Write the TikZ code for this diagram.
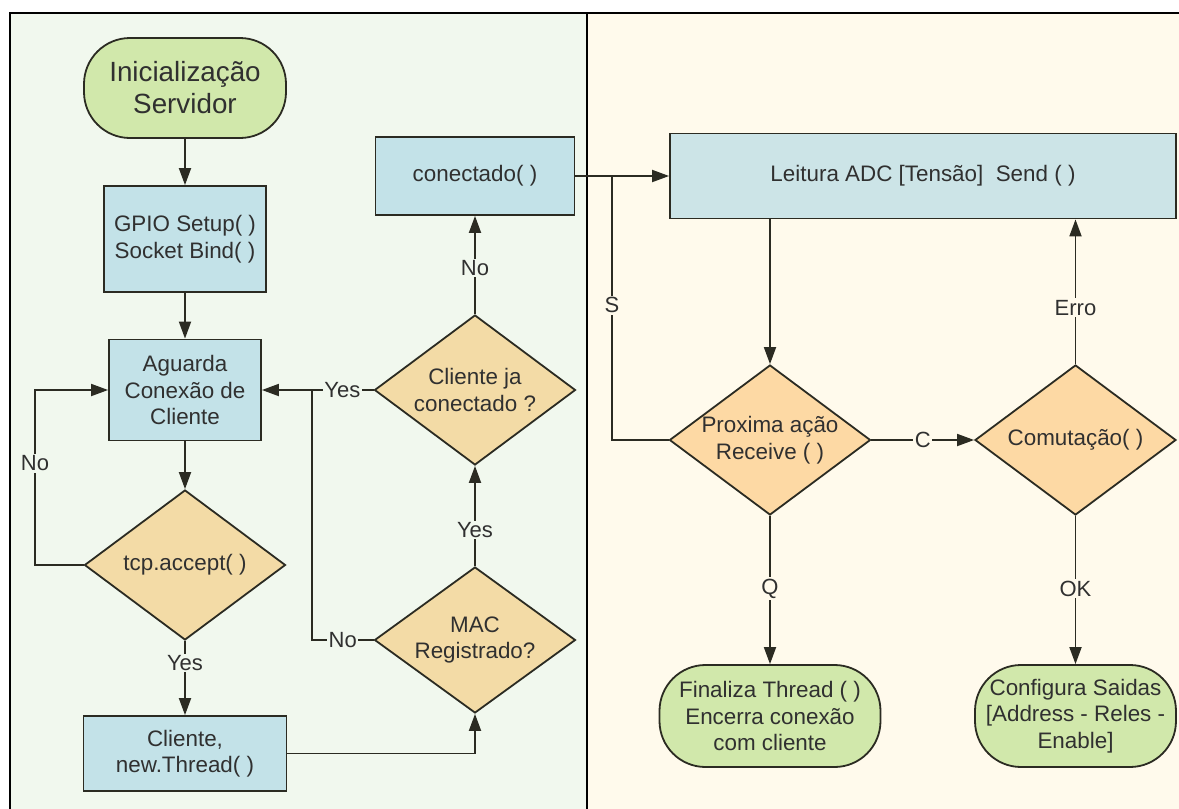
\documentclass[tikz,border=0pt]{standalone}
\usepackage{fontspec}
\setmainfont{Liberation Sans}
\usetikzlibrary{shapes.geometric,arrows.meta,calc}

\definecolor{panelL}{HTML}{F1F8EE}
\definecolor{panelR}{HTML}{FFFAEC}
\definecolor{boxblue}{HTML}{C3E2E8}
\definecolor{readblue}{HTML}{CCE4E7}
\definecolor{termgreen}{HTML}{D1E8AB}
\definecolor{decL}{HTML}{F3DBA6}
\definecolor{decR}{HTML}{FDD9A4}
\definecolor{ink}{HTML}{2B2B22}
\definecolor{txt}{HTML}{303030}

\begin{document}
\begin{tikzpicture}[x=1pt,y=-1pt,
  every node/.style={text=txt, font=\fontsize{22.4}{26.5}\selectfont, align=center},
  proc/.style={draw=ink, line width=1.8pt, rectangle, inner sep=0pt},
  term/.style={draw=ink, line width=1.8pt, rectangle, rounded corners=46pt, fill=termgreen, inner sep=0pt},
  dec/.style={draw=ink, line width=1.8pt, diamond, aspect=1.34, inner sep=0pt, minimum width=201pt, minimum height=150pt},
  flow/.style={draw=ink, line width=1.8pt, -{Triangle[length=17pt,width=12pt]}},
  link/.style={draw=ink, line width=1.8pt},
  lbl/.style={font=\fontsize{22}{26}\selectfont, inner sep=1.5pt},
]
\useasboundingbox (0,0) rectangle (1179,809);

% two swimlane panels
\fill[panelL] (10,13) rectangle (587,809);
\fill[panelR] (587,13) rectangle (1179,809);
\draw[black, line width=2.2pt] (10,809) -- (10,13) -- (1179,13);
\draw[black, line width=2pt] (587,13) -- (587,809);

% server side
\node[term, minimum width=202pt, minimum height=100pt, font=\fontsize{27.8}{32}\selectfont] (start) at (185,88) {Inicialização\\Servidor};
\node[proc, fill=boxblue, minimum width=162pt, minimum height=106pt] (setup) at (185,239) {GPIO Setup( )\\Socket Bind( )};
\node[proc, fill=boxblue, minimum width=152pt, minimum height=101pt] (wait) at (185,390) {Aguarda\\Conexão de\\Cliente};
\node[dec, fill=decL] (accept) at (185,565) {tcp.accept( )};
\node[proc, fill=boxblue, minimum width=203pt, minimum height=75pt] (client) at (185,753.5) {Cliente,\\new.Thread( )};
\node[dec, fill=decL, minimum height=146pt] (mac) at (475,640) {MAC\\Registrado?};
\node[dec, fill=decL] (already) at (475,390) {Cliente ja\\conectado ?};
\node[proc, fill=boxblue, minimum width=199pt, minimum height=78pt] (connected) at (475,176) {conectado( )};

% client thread side
\node[proc, fill=readblue, minimum width=506pt, minimum height=85pt] (read) at (923,176) {Leitura ADC [Tensão]\ \ Send ( )};
\node[dec, fill=decR] (next) at (770,440) {Proxima ação\\Receive ( )};
\node[dec, fill=decR] (switch) at (1075.5,440) {Comutação( )};
\node[term, minimum width=221pt, minimum height=102pt] (finish) at (770,716) {Finaliza Thread ( )\\Encerra conexão\\com cliente};
\node[term, minimum width=201pt, minimum height=102pt] (outputs) at (1075.5,716) {Configura Saidas\\{[}Address - Reles -\\Enable{]}};

\coordinate (noL) at (35,565);
\coordinate (jn) at (312,390);
\coordinate (sj) at (612,176);

% connectors, server side
\draw[flow] (start.south) -- (setup.north);
\draw[flow] (setup.south) -- (wait.north);
\draw[flow] (wait.south) -- (accept.north);
\draw[flow] (accept.west) -- (noL) |- node[lbl, fill=panelL, pos=0.29]{No} (wait.west);
\draw[flow] (accept.south) -- node[lbl, fill=panelL, pos=0.3]{Yes} (client.north);
\draw[flow] (client.east) -| (mac.south);
\draw[flow] (mac.north) -- node[lbl, fill=panelL, pos=0.36]{Yes} (already.south);
\draw[flow] (already.north) -- node[lbl, fill=panelL, pos=0.47]{No} (connected.south);
\draw[flow] (already.west) -- node[lbl, fill=panelL, pos=0.28]{Yes} (already.west -| wait.east);
\draw[link] (mac.west) -| node[lbl, fill=panelL, pos=0.25]{No} (jn);

% connectors, client thread side
\draw[flow] (connected.east) -- (connected.east -| read.west);
\draw[link] (next.west) -| node[lbl, fill=panelR, pos=0.755]{S} (sj);
\draw[flow] (next.north |- read.south) -- (next.north);
\draw[flow] (next.east) -- node[lbl, fill=panelR]{C} (switch.west);
\draw[flow] (switch.north) -- node[lbl, fill=panelR, pos=0.39]{Erro} (switch.north |- read.south);
\draw[flow] (next.south) -- node[lbl, fill=panelR, pos=0.49]{Q} (finish.north);
\draw[flow] (switch.south) -- node[lbl, fill=panelR, pos=0.49]{OK} (outputs.north);
\end{tikzpicture}
\end{document}
